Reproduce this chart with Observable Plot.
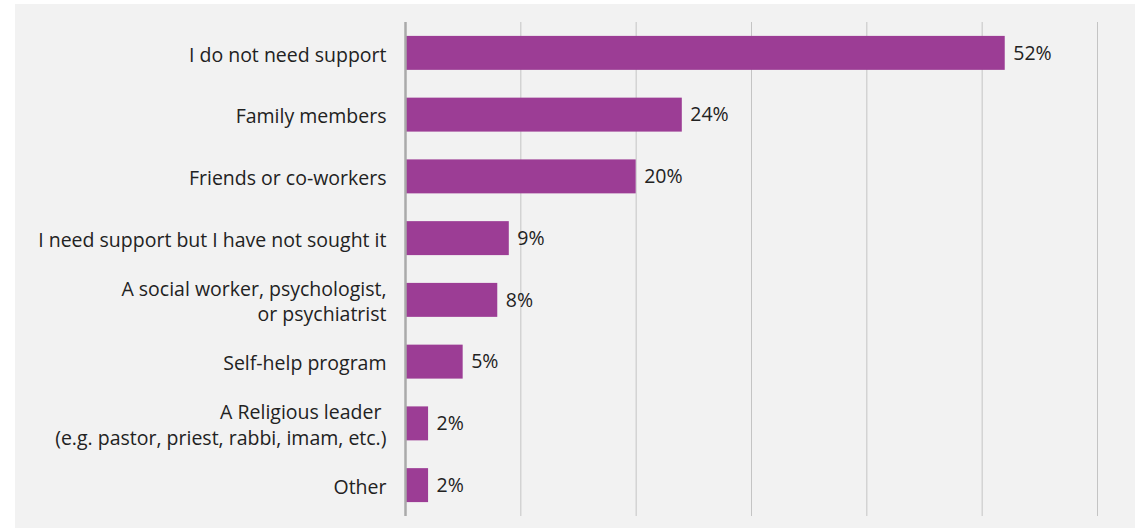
<!DOCTYPE html>
<html>
<head>
<meta charset="utf-8">
<script src="https://cdn.jsdelivr.net/npm/d3@7"></script>
<script src="https://cdn.jsdelivr.net/npm/@observablehq/plot@0.6"></script>
<style>
  html, body { margin: 0; padding: 0; background: #ffffff; }
  #chart { position: absolute; left: 15px; top: 4px; }
  #chart svg { background: #f2f2f2; display: block; }
</style>
</head>
<body>
<div id="chart"></div>
<script>
const categories = [
  "I do not need support",
  "Family members",
  "Friends or co-workers",
  "I need support but I have not sought it",
  "A social worker, psychologist,\nor psychiatrist",
  "Self-help program",
  "A Religious leader\u00a0\n(e.g. pastor, priest, rabbi, imam, etc.)",
  "Other"
];
const values = [52, 24, 20, 9, 8, 5, 2, 2];
const gridTicks = [10, 20, 30, 40, 50, 60];

const data = categories.map((c, i) => ({category: c, value: values[i]}));

const chart = Plot.plot({
  width: 1120,
  height: 524,
  marginLeft: 390,
  marginRight: 38,
  marginTop: 18,
  marginBottom: 12,
  style: {fontFamily: "'Open Sans', sans-serif", fontSize: "19.5px", color: "#222", background: "#f2f2f2"},
  x: {domain: [0, 60], axis: null},
  y: {domain: categories, paddingInner: 0.45, paddingOuter: 0.225, round: false, label: null},
  marks: [
    Plot.gridX(gridTicks, {stroke: "#c4c4c4", strokeOpacity: 1, strokeWidth: 1}),
    Plot.barX(data, {x: "value", y: "category", fill: "#9c3d95"}),
    Plot.ruleX([0], {stroke: "#aaaaaa", strokeWidth: 2.5}),
    Plot.text(data, {x: "value", y: "category", text: d => d.value + "%", textAnchor: "start", dx: 8, fill: "#222", fontSize: 19.5}),
    Plot.axisY({tickSize: 0, tickPadding: 19, label: null, lineHeight: 1.3, fontSize: 19.5, fill: "#222"})
  ]
});
document.getElementById("chart").appendChild(chart);
</script>
</body>
</html>
